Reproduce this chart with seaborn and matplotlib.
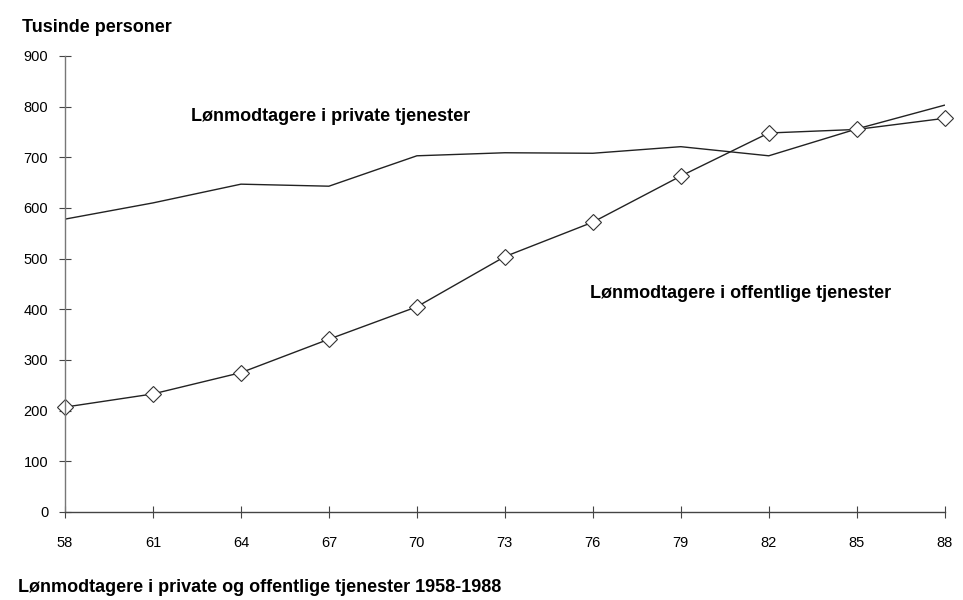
import numpy as np
import pandas as pd
import matplotlib
matplotlib.use("Agg")
import matplotlib.pyplot as plt
import seaborn as sns

# data (tusinde personer)
years = [58, 61, 64, 67, 70, 73, 76, 79, 82, 85, 88]
private = [578, 610, 647, 643, 703, 709, 708, 721, 703, 756, 803]
public = [207, 233, 275, 341, 405, 504, 572, 663, 748, 755, 777]
yticks = [0, 100, 200, 300, 400, 500, 600, 700, 800, 900]

sns.set_theme(style="white")
plt.rcParams['font.family'] = ['Liberation Sans', 'DejaVu Sans']
plt.rcParams['text.color'] = 'black'

df = pd.DataFrame({"year": years, "private": private, "public": public})

fig = plt.figure(figsize=(9.63, 6.0), dpi=100)
ax = fig.add_axes([0.0675, 0.1467, 0.9135, 0.76])

sns.lineplot(data=df, x="year", y="private", ax=ax, color="#222222", linewidth=1.0)
sns.lineplot(data=df, x="year", y="public", ax=ax, color="#222222", linewidth=1.0,
             marker="D", markersize=8, markerfacecolor="white",
             markeredgecolor="#333333", markeredgewidth=0.8, clip_on=False)

ax.set_xlim(58, 88)
ax.set_ylim(0, 900)
ax.set_xticks(years)
ax.set_xticklabels([str(y) for y in years])
ax.set_yticks(yticks)
ax.set_xlabel("")
ax.set_ylabel("")

for side in ["top", "right"]:
    ax.spines[side].set_visible(False)
ax.spines["left"].set_color("#777777")
ax.spines["bottom"].set_color("#444444")
for side in ["left", "bottom"]:
    ax.spines[side].set_linewidth(1.0)

ax.tick_params(axis="both", bottom=True, left=True, direction="inout", length=8,
               width=0.8, color="#444444", labelsize=10.5, labelcolor="black")
ax.tick_params(axis="x", pad=13)
ax.tick_params(axis="y", pad=8)
ax.grid(False)

fig.text(0.0228, 0.955, "Tusinde personer", fontsize=13, fontweight="bold", va="center")
ax.text(62.3, 780, "Lønmodtagere i private tjenester", fontsize=13,
        fontweight="bold", va="center")
ax.text(75.9, 432, "Lønmodtagere i offentlige tjenester", fontsize=13,
        fontweight="bold", va="center")
fig.text(0.0187, 0.02, "Lønmodtagere i private og offentlige tjenester 1958-1988",
         fontsize=13, fontweight="bold", va="center")

fig.savefig("out.png", dpi=100)
